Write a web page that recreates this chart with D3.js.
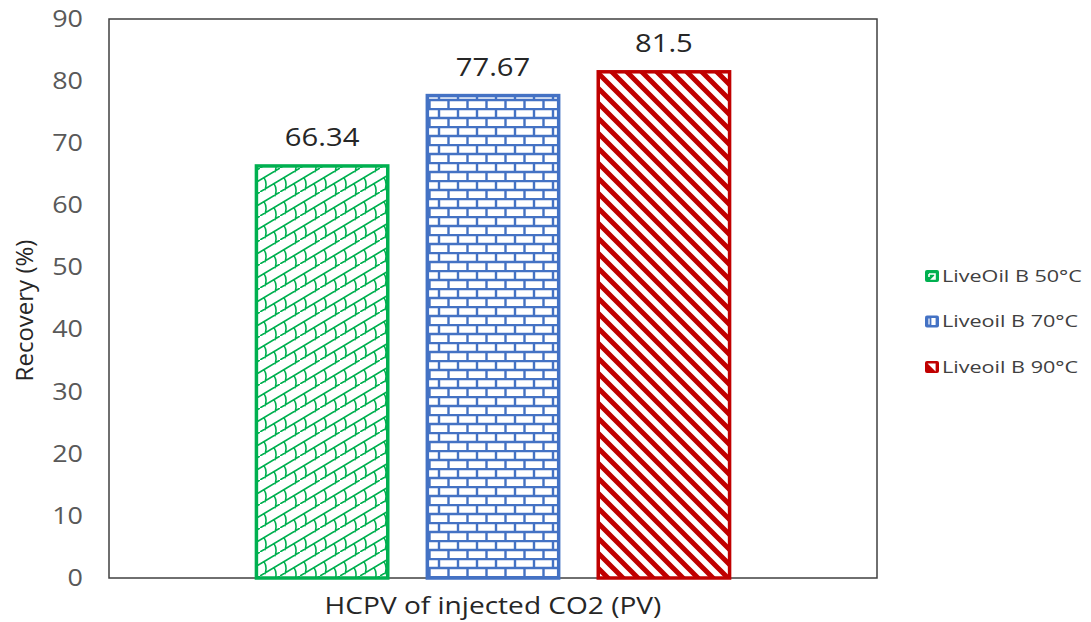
<!DOCTYPE html>
<html>
<head>
<meta charset="utf-8">
<script src="https://cdn.jsdelivr.net/npm/d3@7/dist/d3.min.js"></script>
<style>
  html, body { margin: 0; padding: 0; background: #fff; }
  svg { display: block; font-family: "Open Sans", "Noto Sans", sans-serif; }
</style>
</head>
<body>
<svg id="chart" width="1091" height="622"></svg>
<script>
// Data
const category = "HCPV of injected CO2 (PV)";
const seriesNames = ["LiveOil B 50°C", "Liveoil B 70°C", "Liveoil B 90°C"];
const recoveryValues = [66.34, 77.67, 81.5];
const seriesColors = ["#00b050", "#4472c4", "#c00000"];
const yTicks = [0, 10, 20, 30, 40, 50, 60, 70, 80, 90];

const svg = d3.select("#chart");
const plot = { left: 109, right: 877, top: 19, bottom: 578 };
const sx = 1.17;   // horizontal text widening

const y = d3.scaleLinear().domain([0, 90]).range([plot.bottom, plot.top]);
const xGroup = d3.scaleBand().domain([category])
  .range([plot.left, plot.right]).paddingInner(0.38).paddingOuter(0.19);
const xSeries = d3.scaleBand().domain(seriesNames)
  .range([xGroup(category), xGroup(category) + xGroup.bandwidth()])
  .paddingInner(0.214).paddingOuter(0);

// Fill patterns
const defs = svg.append("defs");

// shingle pattern (green)
const pShingle = defs.append("pattern").attr("id", "pat0")
  .attr("patternUnits", "userSpaceOnUse").attr("width", 20).attr("height", 24);
pShingle.append("rect").attr("width", 20).attr("height", 24).attr("fill", "#fff");
pShingle.append("path")
  .attr("d", "M0,12 L20,0 M0,24 L20,12 M-2,25.2 L2,22.8 M18,1.2 L22,-1.2 " +
             "M4,9.6 Q7.5,15 5,21.6 M14,15.6 Q17.5,21 15,27.6 M14,-8.4 Q17.5,-3 15,3.6")
  .attr("fill", "none").attr("stroke", seriesColors[0]).attr("stroke-width", 1.6)
  .attr("stroke-linecap", "round");

// brick pattern (blue)
const pBrick = defs.append("pattern").attr("id", "pat1")
  .attr("patternUnits", "userSpaceOnUse").attr("width", 19).attr("height", 18);
pBrick.append("rect").attr("width", 19).attr("height", 18).attr("fill", "#fff");
pBrick.append("path")
  .attr("d", "M0,1 H19 M0,10 H19 M2,1 V10 M11.5,10 V19")
  .attr("fill", "none").attr("stroke", seriesColors[1]).attr("stroke-width", 2.4);

// diagonal stripes (red)
const pStripe = defs.append("pattern").attr("id", "pat2")
  .attr("patternUnits", "userSpaceOnUse").attr("width", 15).attr("height", 15);
pStripe.append("rect").attr("width", 15).attr("height", 15).attr("fill", "#fff");
pStripe.append("path")
  .attr("d", "M-2,-2 L17,17 M-4,11 L4,19 M11,-4 L19,4")
  .attr("stroke", seriesColors[2]).attr("stroke-width", 5);

// Plot area frame
svg.append("rect")
  .attr("x", plot.left).attr("y", plot.top)
  .attr("width", plot.right - plot.left).attr("height", plot.bottom - plot.top)
  .attr("fill", "none").attr("stroke", "#404040").attr("stroke-width", 1.5);

// Y axis labels
const yAxis = d3.axisLeft(y).tickValues(yTicks).tickSize(0).tickPadding(0);
const gy = svg.append("g").attr("transform", `translate(${plot.left - 26},0)`).call(yAxis);
gy.select(".domain").remove();
gy.selectAll(".tick text")
  .attr("x", 0)
  .attr("transform", `scale(${sx},1)`)
  .attr("font-size", 23).attr("fill", "#595959")
  .attr("font-family", "'Open Sans', sans-serif");

// Bars
const rows = seriesNames.map((s, i) => ({ name: s, value: recoveryValues[i], i }));
svg.append("g").selectAll("rect").data(rows).join("rect")
  .attr("x", d => xSeries(d.name) + 1.5)
  .attr("y", d => y(d.value))
  .attr("width", xSeries.bandwidth() - 3)
  .attr("height", d => y(0) - y(d.value))
  .attr("fill", d => `url(#pat${d.i})`)
  .attr("stroke", d => seriesColors[d.i])
  .attr("stroke-width", 3.5);

// Value labels
svg.append("g").selectAll("text").data(rows).join("text")
  .attr("transform", d =>
    `translate(${xSeries(d.name) + xSeries.bandwidth() / 2},${y(d.value) - 20}) scale(${sx},1)`)
  .attr("text-anchor", "middle")
  .attr("font-size", 25).attr("fill", "#262626")
  .text(d => d.value);

// Axis titles
svg.append("text")
  .attr("transform", `translate(${(plot.left + plot.right) / 2},614) scale(${sx},1)`)
  .attr("text-anchor", "middle").attr("font-size", 24).attr("fill", "#262626")
  .text(category);
svg.append("text")
  .attr("transform", `translate(33,${(plot.top + plot.bottom) / 2 + 12}) rotate(-90)`)
  .attr("text-anchor", "middle").attr("font-size", 24).attr("fill", "#262626")
  .text("Recovery (%)");

// Legend
const legend = svg.append("g").attr("transform", "translate(925,276)");
const items = legend.selectAll("g").data(rows).join("g")
  .attr("transform", d => `translate(0,${d.i * 45.5})`);
items.append("rect").attr("x", 0).attr("y", -6).attr("width", 14).attr("height", 12)
  .attr("rx", 2).attr("fill", d => seriesColors[d.i]);
items.append("path")
  .attr("d", d => [
    "M4,-2 H10 V3 H7 L10,0 M4,-2 L4,1",
    "M4,-3 V3 M7,-3 H10 V3 H7 Z",
    "M4,-3 H10 V3 Z"
  ][d.i])
  .attr("fill", d => d.i === 0 ? "none" : "#fff")
  .attr("stroke", "#fff").attr("stroke-width", d => d.i === 0 ? 1.6 : 1.2);
items.append("text")
  .attr("transform", `translate(17,0) scale(1.27,1)`)
  .attr("dy", "0.35em")
  .attr("font-size", 17).attr("fill", "#404040")
  .text(d => d.name);
</script>
</body>
</html>
